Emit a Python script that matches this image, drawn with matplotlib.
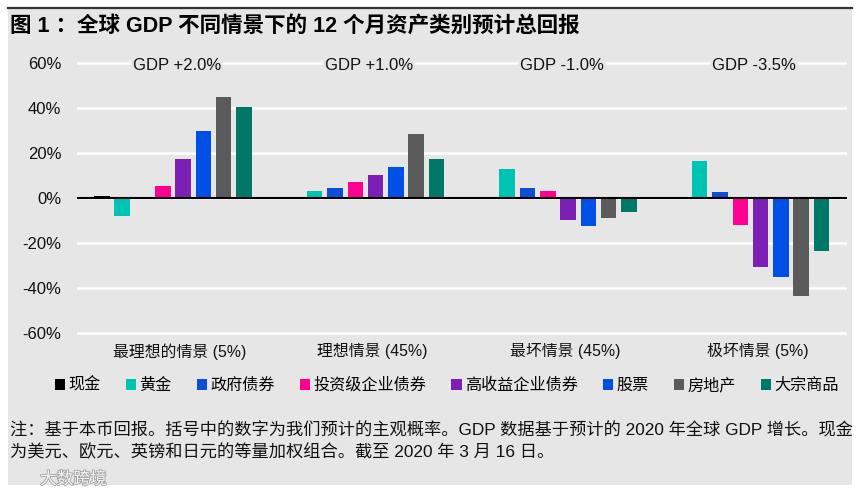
import matplotlib.pyplot as plt
import matplotlib.transforms as mtransforms
from matplotlib.patches import Patch, Rectangle
from matplotlib.lines import Line2D
import matplotlib.patheffects as pe
import numpy as np

plt.rcParams['font.family'] = ['Liberation Sans', 'Noto Sans CJK SC', 'DejaVu Sans']

# scenario groups
scenarios = ["最理想的情景 (5%)", "理想情景 (45%)", "最坏情景 (45%)", "极坏情景 (5%)"]
gdp_labels = ["GDP +2.0%", "GDP +1.0%", "GDP -1.0%", "GDP -3.5%"]

# asset classes
assets = ["现金", "黄金", "政府债券", "投资级企业债券", "高收益企业债券", "股票", "房地产", "大宗商品"]
colors = ["#000000", "#00c4b3", "#0a4fd6", "#ff0090", "#7d1fb4", "#0050e6", "#5a5a5a", "#007868"]

# expected 12-month returns (%), one list per asset, values per scenario
cash = [1.0, 0.0, 0.0, 0.0]
gold = [-8.2, 3.1, 13.0, 16.3]
gov_bonds = [0.0, 4.6, 4.6, 2.5]
ig_credit = [5.2, 7.3, 3.1, -11.8]
hy_credit = [17.4, 10.1, -9.7, -30.8]
equities = [30.0, 13.8, -12.6, -35.2]
real_estate = [44.8, 28.5, -8.9, -43.5]
commodities = [40.5, 17.4, -6.2, -23.7]
series = [cash, gold, gov_bonds, ig_credit, hy_credit, equities, real_estate, commodities]

yticks = [-60, -40, -20, 0, 20, 40, 60]

bg = "#e6e6e6"
fig = plt.figure(figsize=(8.64, 4.97), dpi=100, facecolor="white")
W, H = 864, 497

# grey panel and top rule
fig.patches.append(Rectangle((8 / W, 1 - 485 / H), 844 / W, 477 / H,
                             transform=fig.transFigure, facecolor=bg, edgecolor="none", zorder=-10))
fig.lines.append(Line2D([8 / W, 852 / W], [1 - 8 / H, 1 - 8 / H], transform=fig.transFigure,
                        color="#333333", linewidth=1.6))

fig.text(10 / W, 1 - 26 / H, "图 1 ：全球 GDP 不同情景下的 12 个月资产类别预计总回报",
         fontsize=15.5, fontweight="bold", ha="left", va="center")

ax = fig.add_axes([76.7 / W, 1 - 335.0 / H, 770 / W, 273.9 / H])
ax.set_facecolor("none")
for s in ax.spines.values():
    s.set_visible(False)

x = np.arange(len(scenarios))
step = 0.1055
width = 0.0805
for i, (name, vals, c) in enumerate(zip(assets, series, colors)):
    ax.bar(x + (i - 3.5) * step, vals, width=width, color=c, label=name, zorder=3)

ax.set_xlim(-0.5, 3.5)
ax.set_ylim(-61, 61)
ax.set_yticks(yticks)
ax.set_yticklabels([f"{v}%" for v in yticks], fontsize=12, color="#111111")
ax.yaxis.grid(True, color="white", linewidth=1.8, zorder=1)
ax.axhline(0, color="black", linewidth=1.5, zorder=4)
ax.tick_params(axis="y", length=0, pad=11)

ax.set_xticks(x)
ax.set_xticklabels(scenarios, fontsize=11.4, color="#111111")
ax.tick_params(axis="x", length=0, pad=6)
offset = mtransforms.ScaledTranslation(7 / 100, 0, fig.dpi_scale_trans)
for lab in ax.get_xticklabels():
    lab.set_transform(lab.get_transform() + offset)

for xi, g in zip(x, gdp_labels):
    ax.text(xi + 0.02, 59, g, fontsize=12, ha="center", va="center", color="#111111", zorder=5,
            bbox=dict(facecolor=bg, edgecolor="none", pad=1.5))

handles = [Patch(facecolor=c, edgecolor="none") for c in colors]
fig.legend(handles, assets, loc="center", bbox_to_anchor=(447 / W, 1 - 385 / H), ncol=8,
           frameon=False, fontsize=11.6, handlelength=0.65, handleheight=0.65,
           handletextpad=0.2, columnspacing=1.55, borderaxespad=0)

fig.text(10 / W, 1 - 430 / H,
         "注：基于本币回报。括号中的数字为我们预计的主观概率。GDP 数据基于预计的 2020 年全球 GDP 增长。现金",
         fontsize=12.4, ha="left", va="center", color="#111111")
fig.text(10 / W, 1 - 452 / H,
         "为美元、欧元、英镑和日元的等量加权组合。截至 2020 年 3 月 16 日。",
         fontsize=12.4, ha="left", va="center", color="#111111")

# watermark
fig.text(40 / W, 1 - 479 / H, "大数跨境", fontsize=12, ha="left", va="center", color="white",
         alpha=0.9, path_effects=[pe.withStroke(linewidth=1.2, foreground="#9a9a9a")])

fig.savefig("out.png", dpi=100, facecolor="white")
